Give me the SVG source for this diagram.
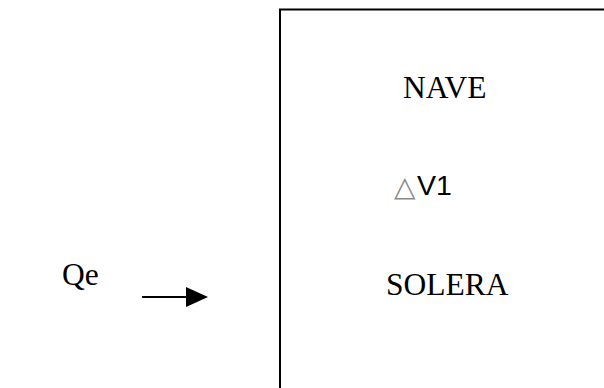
<svg xmlns="http://www.w3.org/2000/svg" width="604" height="388" viewBox="0 0 604 388">
  <style>
    .serif { font-family: "Liberation Serif", "Times New Roman", serif; font-size: 31.5px; fill: #000; }
    .sans { font-family: "Liberation Sans", Arial, sans-serif; fill: #000; }
    .edge { stroke: #000; stroke-width: 2; fill: none; }
  </style>
  <defs>
    <marker id="arrow" markerUnits="userSpaceOnUse" markerWidth="22" markerHeight="20" refX="0" refY="10" orient="auto">
      <path d="M0,0 L22,10 L0,20 Z" fill="#000"/>
    </marker>
  </defs>
  <rect width="604" height="388" fill="#fff"/>

  <!-- Tank outline: open to the right and bottom -->
  <g id="tank">
    <path class="edge" d="M280,390 V9.5 H606"/>
    <text class="serif" x="403" y="98">NAVE</text>
    <text x="394" y="196" font-family="DejaVu Sans, sans-serif" font-size="28" fill="#8a8a8a">△</text>
    <text class="sans" x="417" y="195" font-size="28.5">V1</text>
    <text class="serif" x="386" y="295">SOLERA</text>
  </g>

  <!-- Inflow label -->
  <g id="inflow">
    <text class="serif" x="62" y="285" font-size="22.5">Qe</text>
  </g>

  <g id="connectors">
    <line class="edge" x1="142" y1="297" x2="186" y2="297" marker-end="url(#arrow)"/>
  </g>
</svg>
